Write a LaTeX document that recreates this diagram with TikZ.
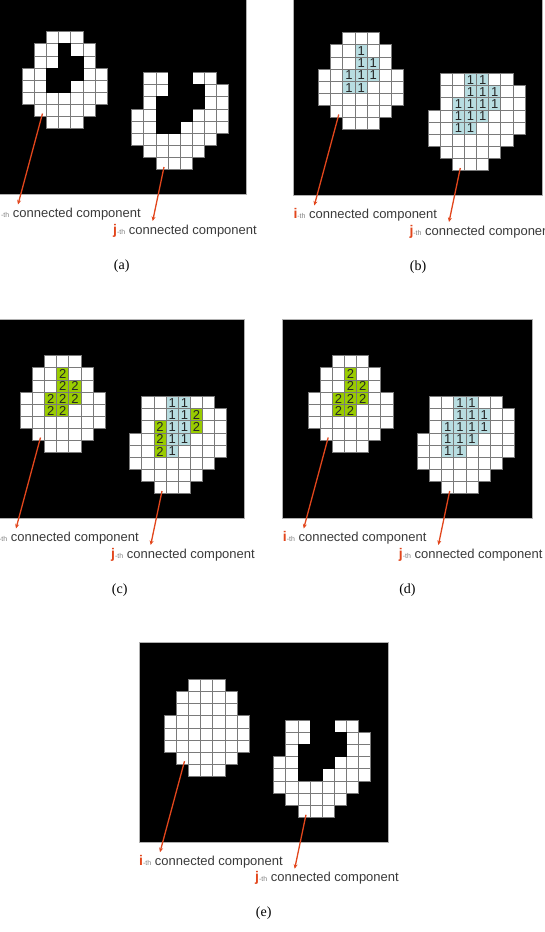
\documentclass[tikz,border=0pt]{standalone}
\usepackage{fontspec}
\setmainfont{Liberation Serif}
\newfontfamily\labelfont{Liberation Sans}
\usetikzlibrary{arrows.meta}

\definecolor{gridgray}{HTML}{7A7A7A}
\definecolor{onefill}{HTML}{B8DDE1}
\definecolor{twofill}{HTML}{99CC00}
\definecolor{pointer}{HTML}{E2461C}
\definecolor{labeltext}{HTML}{3A3A3A}
\definecolor{framegray}{HTML}{B0B0B0}

\newcommand\cellsz{12.15}

% footprints of the two blobs: row/first column/last column
\newcommand\leftrows{0/2/4,1/1/5,2/1/5,3/0/6,4/0/6,5/0/6,6/1/5,7/2/4}
\newcommand\rightrows{0/1/6,1/1/7,2/1/7,3/0/7,4/0/7,5/0/6,6/1/5,7/2/4}
% enclosed cells: row/column
\newcommand\leftinner{1/3,2/3,2/4,3/2,3/3,3/4,4/2,4/3}
\newcommand\rightinner{0/3,0/4,1/3,1/4,1/5,2/2,2/3,2/4,2/5,3/2,3/3,3/4,4/2,4/3}
\newcommand\rightsplitone{0/3,0/4,1/3,1/4,2/3,2/4,3/3,3/4,4/3}
\newcommand\rightsplittwo{1/5,2/5,2/2,3/2,4/2}

\tikzset{
  cellbox/.style={fill=white,draw=gridgray,line width=0.9pt},
  panelframe/.style={fill=black,draw=framegray,line width=0.8pt},
  digit/.style={inner sep=0pt,font=\labelfont\fontsize{13}{13}\selectfont,text=black!85},
  lbl/.style={inner sep=0pt,anchor=base west,text=labeltext,font=\labelfont\fontsize{13}{13}\selectfont},
  caption/.style={inner sep=0pt,anchor=base,font=\fontsize{14}{14}\selectfont},
  pointerline/.style={draw=pointer,line width=1.3pt,-{Stealth[length=4.5pt,width=4pt]}}
}

% white cells of a footprint
\newcommand\footprint[1]{%
  \foreach \r/\a/\b in #1 {\foreach \c in {\a,...,\b} {%
    \draw[cellbox] (\c*\cellsz,\r*\cellsz) rectangle ++(\cellsz,\cellsz);}}}
% cells shown as background, covering their grid lines
\newcommand\holes[1]{%
  \foreach \r/\c in #1 {%
    \fill[black] (\c*\cellsz-0.5,\r*\cellsz-0.5) rectangle ++(\cellsz+1,\cellsz+1);}}
% labelled cells: list, fill, digit, name prefix
\newcommand\marked[4]{%
  \foreach \r/\c in #1 {%
    \draw[cellbox,fill=#2] (\c*\cellsz,\r*\cellsz) rectangle ++(\cellsz,\cellsz);
    \node[digit] (#4-\r-\c) at (\c*\cellsz+\cellsz/2,\r*\cellsz+\cellsz/2+0.3) {#3};}}

\newcommand\compidx[1]{{\color{pointer}\bfseries\fontsize{14}{14}\selectfont #1}{\color{gray}\fontsize{7}{7}\selectfont -th}}

% one panel: name, x, y, left blob extras, right blob extras, caption letter
\newcommand\panel[6]{%
  \begin{scope}[shift={(#2,#3)}]
    \draw[panelframe] (0,0) rectangle (249.5,199.6);
    \begin{scope}[shift={(25.3,36.7)}]\footprint{\leftrows}#4\end{scope}
    \begin{scope}[shift={(134.7,77.5)}]\footprint{\rightrows}#5\end{scope}
    \node[lbl] (#1-ilab) at (0,222.3) {\compidx{i} connected component};
    \node[lbl] (#1-jlab) at (116,239) {\compidx{j} connected component};
    \coordinate (#1-ifrom) at (45.5,118.5);
    \coordinate (#1-ito) at (21,209.5);
    \coordinate (#1-jfrom) at (167,172);
    \coordinate (#1-jto) at (155.7,226);
    \draw[pointerline] (#1-ifrom) -- (#1-ito);
    \draw[pointerline] (#1-jfrom) -- (#1-jto);
    \node[caption] (#1-cap) at (124.75,274) {(#6)};
  \end{scope}}

\begin{document}
\begin{tikzpicture}[x=1pt,y=-1pt]
  \useasboundingbox (0,0) rectangle (544,932);
  \clip (0,0) rectangle (544,932);

  \panel{a}{-3}{-5}{\holes{\leftinner}}{\holes{\rightinner}}{a}
  \panel{b}{293.3}{-4}{\marked{\leftinner}{onefill}{1}{bl}}{\marked{\rightinner}{onefill}{1}{br}}{b}
  \panel{c}{-5}{319}{\marked{\leftinner}{twofill}{2}{cl}}{\marked{\rightsplitone}{onefill}{1}{cr}\marked{\rightsplittwo}{twofill}{2}{cs}}{c}
  \panel{d}{282.7}{319}{\marked{\leftinner}{twofill}{2}{dl}}{\marked{\rightinner}{onefill}{1}{dr}}{d}
  \panel{e}{139}{642.7}{}{\holes{\rightinner}}{e}
\end{tikzpicture}
\end{document}
